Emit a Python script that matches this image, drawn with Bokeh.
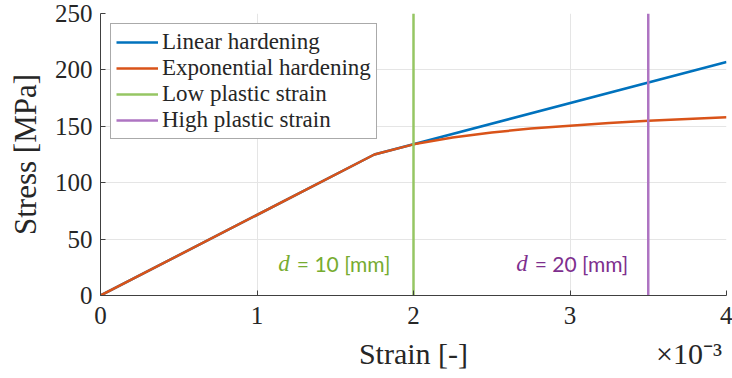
from bokeh.plotting import figure
from bokeh.models import (Range1d, FixedTicker, CustomJSTickFormatter, Legend,
                          LegendItem, Label, LinearAxis)
from bokeh.embed import file_html
from bokeh.resources import INLINE

# ---- data ----
strain_lin = [0.0, 0.00175, 0.004]
stress_lin = [0.0, 125.0, 207.0]

strain_exp = [0.0, 0.00175, 0.0020, 0.00225, 0.0025, 0.00275, 0.0030,
              0.00325, 0.0035, 0.00375, 0.0040]
stress_exp = [0.0, 125.0, 134.0, 140.0, 144.5, 148.0, 150.5,
              153.0, 155.0, 156.5, 158.0]

low_strain = 0.002
high_strain = 0.0035
y_limits = [0, 250]
x_limits = [0, 0.004]

x_ticks = [0, 0.001, 0.002, 0.003, 0.004]
y_ticks = [0, 50, 100, 150, 200, 250]

labels = ["Linear hardening", "Exponential hardening",
          "Low plastic strain", "High plastic strain"]
x_title = "Strain [-]"
y_title = "Stress [MPa]"
exponent_text = "×10⁻³"
ann_low = ["d", "= 10 [mm]"]
ann_high = ["d", "= 20 [mm]"]
ann_low_x = 0.00121
ann_high_x = 0.00273
ann_y = 28

# positions of the row below the x tick labels
x_title_pos = 0.002
exponent_pos = 0.00376

BLUE = "#0072BD"
ORANGE = "#D95319"
GREEN_L = "#96C663"
PURPLE_L = "#AE74C2"
GREEN_T = "#77AC30"
PURPLE_T = "#7E2F8E"
TXT = "#262626"

SERIF = "Liberation Serif"

p = figure(width=732, height=378, output_backend="svg", toolbar_location=None,
           x_range=Range1d(*x_limits), y_range=Range1d(*y_limits),
           min_border_left=100, min_border_right=6, min_border_top=13,
           min_border_bottom=83)
p.outline_line_color = None
p.background_fill_color = "white"

r_lin = p.line(strain_lin, stress_lin, line_color=BLUE, line_width=2.5)
r_exp = p.line(strain_exp, stress_exp, line_color=ORANGE, line_width=2.5)
r_low = p.line([low_strain, low_strain], y_limits, line_color=GREEN_L, line_width=2.5)
r_high = p.line([high_strain, high_strain], y_limits, line_color=PURPLE_L, line_width=2.5)

for ax in (p.xaxis[0], p.yaxis[0]):
    ax.axis_line_color = "#404040"
    ax.axis_line_width = 1
    ax.major_tick_line_color = "#404040"
    ax.major_tick_in = 5
    ax.major_tick_out = 0
    ax.minor_tick_line_color = None
    ax.major_label_text_font = SERIF
    ax.major_label_text_font_size = "25px"
    ax.major_label_text_color = TXT
    ax.axis_label_text_font = SERIF
    ax.axis_label_text_font_size = "31px"
    ax.axis_label_text_font_style = "normal"
    ax.axis_label_text_color = TXT

p.xaxis.ticker = FixedTicker(ticks=x_ticks)
p.xaxis.formatter = CustomJSTickFormatter(code="return (tick*1000).toFixed(0);")
p.yaxis.ticker = FixedTicker(ticks=y_ticks)
p.yaxis.axis_label = y_title
p.xaxis.major_label_standoff = 11
p.yaxis.major_label_standoff = 8
p.yaxis.axis_label_standoff = 9

# second row below the x axis: axis title and the exponent
row_axis = LinearAxis(ticker=FixedTicker(ticks=[x_title_pos, exponent_pos]),
                      formatter=CustomJSTickFormatter(
                          args=dict(t=x_title, e=exponent_text, split=0.003),
                          code="return tick < split ? t : e;"))
row_axis.axis_line_color = None
row_axis.major_tick_line_color = None
row_axis.minor_tick_line_color = None
row_axis.major_label_standoff = 4
row_axis.major_label_text_font = SERIF
row_axis.major_label_text_font_size = "30px"
row_axis.major_label_text_color = TXT
p.add_layout(row_axis, "below")

p.xgrid.grid_line_color = "#E5E5E5"
p.ygrid.grid_line_color = "#E5E5E5"
p.xgrid.ticker = FixedTicker(ticks=x_ticks)
p.ygrid.ticker = FixedTicker(ticks=y_ticks)

legend = Legend(items=[LegendItem(label=labels[0], renderers=[r_lin]),
                       LegendItem(label=labels[1], renderers=[r_exp]),
                       LegendItem(label=labels[2], renderers=[r_low]),
                       LegendItem(label=labels[3], renderers=[r_high])],
                location="top_left")
legend.margin = 10
legend.padding = 5
legend.spacing = 0
legend.glyph_width = 42
legend.glyph_height = 22
legend.label_height = 22
legend.label_standoff = 4
legend.label_text_font = SERIF
legend.label_text_font_size = "23px"
legend.label_text_color = TXT
legend.border_line_color = "#555555"
legend.border_line_width = 1
legend.background_fill_alpha = 1
p.add_layout(legend)

# annotations
for xx, txt, col in ((ann_low_x, ann_low, GREEN_T), (ann_high_x, ann_high, PURPLE_T)):
    p.add_layout(Label(x=xx, y=ann_y, text=txt[0], text_align="right",
                       text_baseline="middle", text_font=SERIF,
                       text_font_style="italic", text_font_size="23px",
                       text_color=col))
    p.add_layout(Label(x=xx, y=ann_y, x_offset=7, text=txt[1], text_align="left",
                       text_baseline="middle", text_font="Lato",
                       text_font_size="21px", text_color=col))

open("out.html", "w").write(file_html(p, INLINE))
